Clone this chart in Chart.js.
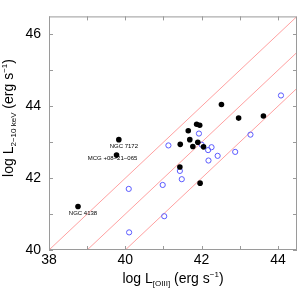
<!DOCTYPE html>
<html lang="en">
<head>
<meta charset="UTF-8">
<title>log L2-10keV vs log L[OIII]</title>
<script src="https://cdn.jsdelivr.net/npm/chart.js"></script>
<style>
  html, body { margin: 0; padding: 0; background: #fff; }
  #wrap { width: 302px; height: 291px; }
</style>
</head>
<body>
<div id="wrap"><canvas id="chart" width="302" height="291"></canvas></div>
<script>
// filled black sources
const filledX = [38.76, 39.83, 39.77, 42.52, 42.97, 43.62, 41.87, 41.95, 41.65, 41.69,
                 41.44, 41.90, 41.77, 42.05, 41.43, 41.96];
const filledY = [41.21, 43.07, 42.64, 44.05, 43.67, 43.73, 43.50, 43.47, 43.32, 43.07,
                 42.94, 43.00, 42.88, 42.87, 42.31, 41.86];
// open blue sources
const openX = [40.09, 40.10, 41.02, 40.98, 41.13, 41.43, 41.48, 41.93, 42.00, 42.17,
               42.26, 42.18, 42.42, 42.88, 43.28, 44.08];
const openY = [41.70, 40.49, 40.94, 41.81, 42.91, 42.20, 41.97, 43.24, 42.93, 42.78,
               42.86, 42.49, 42.62, 42.73, 43.21, 44.30];
// names written next to some filled points (index into filledX / filledY)
const namedSources = ['NGC 4138', 'NGC 7172', 'MCG +08\u221221\u2212065'];
const namedIndex = [0, 1, 2];
// log Lx = log L[OIII] + c
const relationOffsets = [2, 1, 0];
const xRange = [38, 44.5];
const yRange = [40, 46.5];
const xTickLabels = [38, 40, 42, 44];
const yTickLabels = [40, 42, 44, 46];

const FONT = "'Liberation Sans', Arial, Helvetica, sans-serif";
const labelOffsets = [[5, 7], [5, 6.5], [-4, 3]];

function pts(xs, ys) {
    return xs.map((x, i) => ({ x: x, y: ys[i] }));
}

const relationSets = relationOffsets.map(c => ({
    type: 'line',
    data: [
        { x: Math.max(xRange[0], yRange[0] - c), y: Math.max(xRange[0], yRange[0] - c) + c },
        { x: xRange[1], y: xRange[1] + c }
    ],
    borderColor: 'rgba(255, 120, 120, 0.7)',
    borderWidth: 1,
    pointRadius: 0,
    fill: false
}));

// draws text made of pieces with different size / vertical shift
function richWidth(ctx, parts) {
    let w = 0;
    parts.forEach(p => { ctx.font = p.size + 'px ' + FONT; w += ctx.measureText(p.t).width; });
    return w;
}
function drawRich(ctx, parts, x, y) {
    let cx = x - richWidth(ctx, parts) / 2;
    parts.forEach(p => {
        ctx.font = p.size + 'px ' + FONT;
        ctx.fillText(p.t, cx, y + (p.dy || 0));
        cx += ctx.measureText(p.t).width;
    });
}

const decorations = {
    id: 'decorations',
    afterDatasetsDraw(chart) {
        const ctx = chart.ctx;
        const a = chart.chartArea;
        const xs = chart.scales.x, ys = chart.scales.y;
        ctx.save();
        // frame
        ctx.strokeStyle = '#9a9a9a';
        ctx.lineWidth = 1;
        ctx.strokeRect(a.left + 0.5, a.top + 0.5, a.right - a.left - 1, a.bottom - a.top - 1);
        // inward ticks on all four sides
        const len = 4;
        ctx.beginPath();
        xs.ticks.forEach(t => {
            const px = Math.round(xs.getPixelForValue(t.value)) + 0.5;
            ctx.moveTo(px, a.bottom); ctx.lineTo(px, a.bottom - len);
            ctx.moveTo(px, a.top); ctx.lineTo(px, a.top + len);
        });
        ys.ticks.forEach(t => {
            const py = Math.round(ys.getPixelForValue(t.value)) + 0.5;
            ctx.moveTo(a.left, py); ctx.lineTo(a.left + len, py);
            ctx.moveTo(a.right, py); ctx.lineTo(a.right - len, py);
        });
        ctx.stroke();
        // source names
        ctx.fillStyle = '#000';
        ctx.font = '6px ' + FONT;
        ctx.textAlign = 'center';
        ctx.textBaseline = 'middle';
        namedIndex.forEach((k, i) => {
            const px = xs.getPixelForValue(filledX[k]);
            const py = ys.getPixelForValue(filledY[k]);
            ctx.fillText(namedSources[i], px + labelOffsets[i][0], py + labelOffsets[i][1]);
        });
        ctx.restore();
    },
    afterDraw(chart) {
        const ctx = chart.ctx;
        const a = chart.chartArea;
        ctx.save();
        ctx.fillStyle = '#000';
        ctx.textAlign = 'left';
        ctx.textBaseline = 'alphabetic';
        drawRich(ctx, [
            { t: 'log L', size: 14 },
            { t: '[OIII]', size: 8, dy: 3 },
            { t: ' (erg s', size: 14 },
            { t: '\u22121', size: 8, dy: -6 },
            { t: ')', size: 14 }
        ], (a.left + a.right) / 2, 283);
        ctx.translate(13, 118);
        ctx.rotate(-Math.PI / 2);
        drawRich(ctx, [
            { t: 'log L', size: 14 },
            { t: '2\u221210 keV', size: 8, dy: 3 },
            { t: ' (erg s', size: 14 },
            { t: '\u22121', size: 8, dy: -6 },
            { t: ')', size: 14 }
        ], 0, 0);
        ctx.restore();
    }
};

new Chart(document.getElementById('chart'), {
    type: 'scatter',
    data: {
        datasets: [
            {
                label: 'filled',
                data: pts(filledX, filledY),
                backgroundColor: '#000',
                borderColor: '#000',
                borderWidth: 0,
                pointRadius: 2.8
            },
            {
                label: 'open',
                data: pts(openX, openY),
                backgroundColor: 'rgba(0,0,0,0)',
                borderColor: 'rgb(90, 90, 255)',
                borderWidth: 1,
                pointRadius: 2.6
            }
        ].concat(relationSets)
    },
    options: {
        responsive: false,
        animation: false,
        events: [],
        layout: { padding: { top: 0, right: 1, left: 0, bottom: 0 } },
        plugins: { legend: { display: false }, tooltip: { enabled: false } },
        scales: {
            x: {
                type: 'linear',
                min: xRange[0], max: xRange[1],
                afterFit(scale) { scale.height = 41; },
                afterBuildTicks(scale) {
                    const t = [];
                    for (let v = Math.ceil(xRange[0]); v <= xRange[1]; v++) t.push({ value: v });
                    scale.ticks = t;
                },
                grid: { display: false, drawTicks: false },
                border: { display: false },
                ticks: {
                    autoSkip: false,
                    maxRotation: 0,
                    padding: 2,
                    color: '#000',
                    font: { family: FONT, size: 14 },
                    callback: v => xTickLabels.includes(v) ? String(v) : ''
                }
            },
            y: {
                type: 'linear',
                min: yRange[0], max: yRange[1],
                afterFit(scale) { scale.width = 49; },
                afterBuildTicks(scale) {
                    const t = [];
                    for (let v = Math.ceil(yRange[0]); v <= yRange[1]; v++) t.push({ value: v });
                    scale.ticks = t;
                },
                grid: { display: false, drawTicks: false },
                border: { display: false },
                ticks: {
                    autoSkip: false,
                    padding: 8,
                    color: '#000',
                    font: { family: FONT, size: 14 },
                    callback: v => yTickLabels.includes(v) ? String(v) : ''
                }
            }
        }
    },
    plugins: [decorations]
});
</script>
</body>
</html>
